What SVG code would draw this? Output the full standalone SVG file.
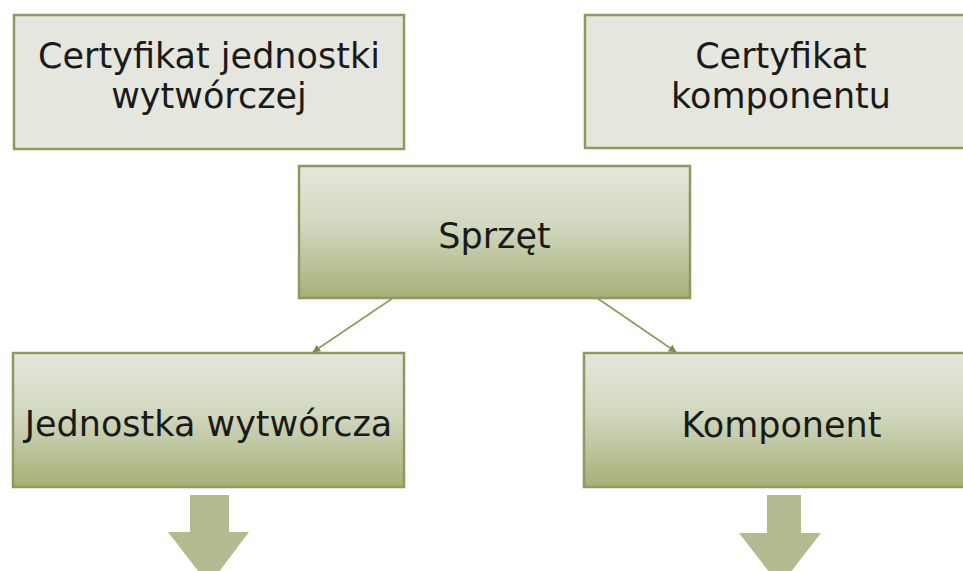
<svg xmlns="http://www.w3.org/2000/svg" width="963" height="571" viewBox="0 0 963 571">
<style>
.plain{fill:#e5e7de;stroke:#8c9a62;stroke-width:2.5}
.grad{fill:url(#g);stroke:#8c9a62;stroke-width:2.5}
text{font-family:"DejaVu Sans",Verdana,sans-serif;font-size:35px;fill:#1a1a1a;text-anchor:middle}
.conn{stroke:#8c9a5e;stroke-width:1.6;fill:none;marker-end:url(#ah)}
.block{fill:#b3bb90}
</style>
<defs>
<linearGradient id="g" x1="0" y1="0" x2="0" y2="1">
<stop offset="0" stop-color="#e4e7dd"/>
<stop offset="0.45" stop-color="#d2d8bf"/>
<stop offset="1" stop-color="#a4b077"/>
</linearGradient>
<marker id="ah" viewBox="0 0 10 10" refX="9" refY="5" markerWidth="8" markerHeight="8" orient="auto" markerUnits="userSpaceOnUse">
<path d="M0,0 L10,5 L0,10 z" fill="#7d8d4c"/>
</marker>
</defs>
<g id="node-cert-jw">
<rect class="plain" x="14" y="15" width="390" height="134"/>
<text x="209" y="68">Certyfikat jednostki</text>
<text x="209" y="108">wytwórczej</text>
</g>
<g id="node-cert-k">
<rect class="plain" x="585" y="15" width="392" height="133"/>
<text x="781" y="68">Certyfikat</text>
<text x="781" y="108">komponentu</text>
</g>
<g id="node-sprzet">
<rect class="grad" x="299" y="166" width="391" height="132"/>
<text x="494.5" y="248">Sprzęt</text>
</g>
<g id="node-jw">
<rect class="grad" x="13" y="353" width="391" height="134"/>
<text x="208.5" y="436">Jednostka wytwórcza</text>
</g>
<g id="node-k">
<rect class="grad" x="584" y="353" width="395" height="134"/>
<text x="781.5" y="437">Komponent</text>
</g>
<g id="connectors">
<line class="conn" x1="393" y1="298" x2="313" y2="352"/>
<line class="conn" x1="597" y1="298" x2="676" y2="352"/>
<polygon class="block" points="190,495 229,495 229,532 249,532 209,585 168,532 190,532"/>
<polygon class="block" points="767,495 801,495 801,533 821,533 780,586 739,533 767,533"/>
</g>
</svg>
